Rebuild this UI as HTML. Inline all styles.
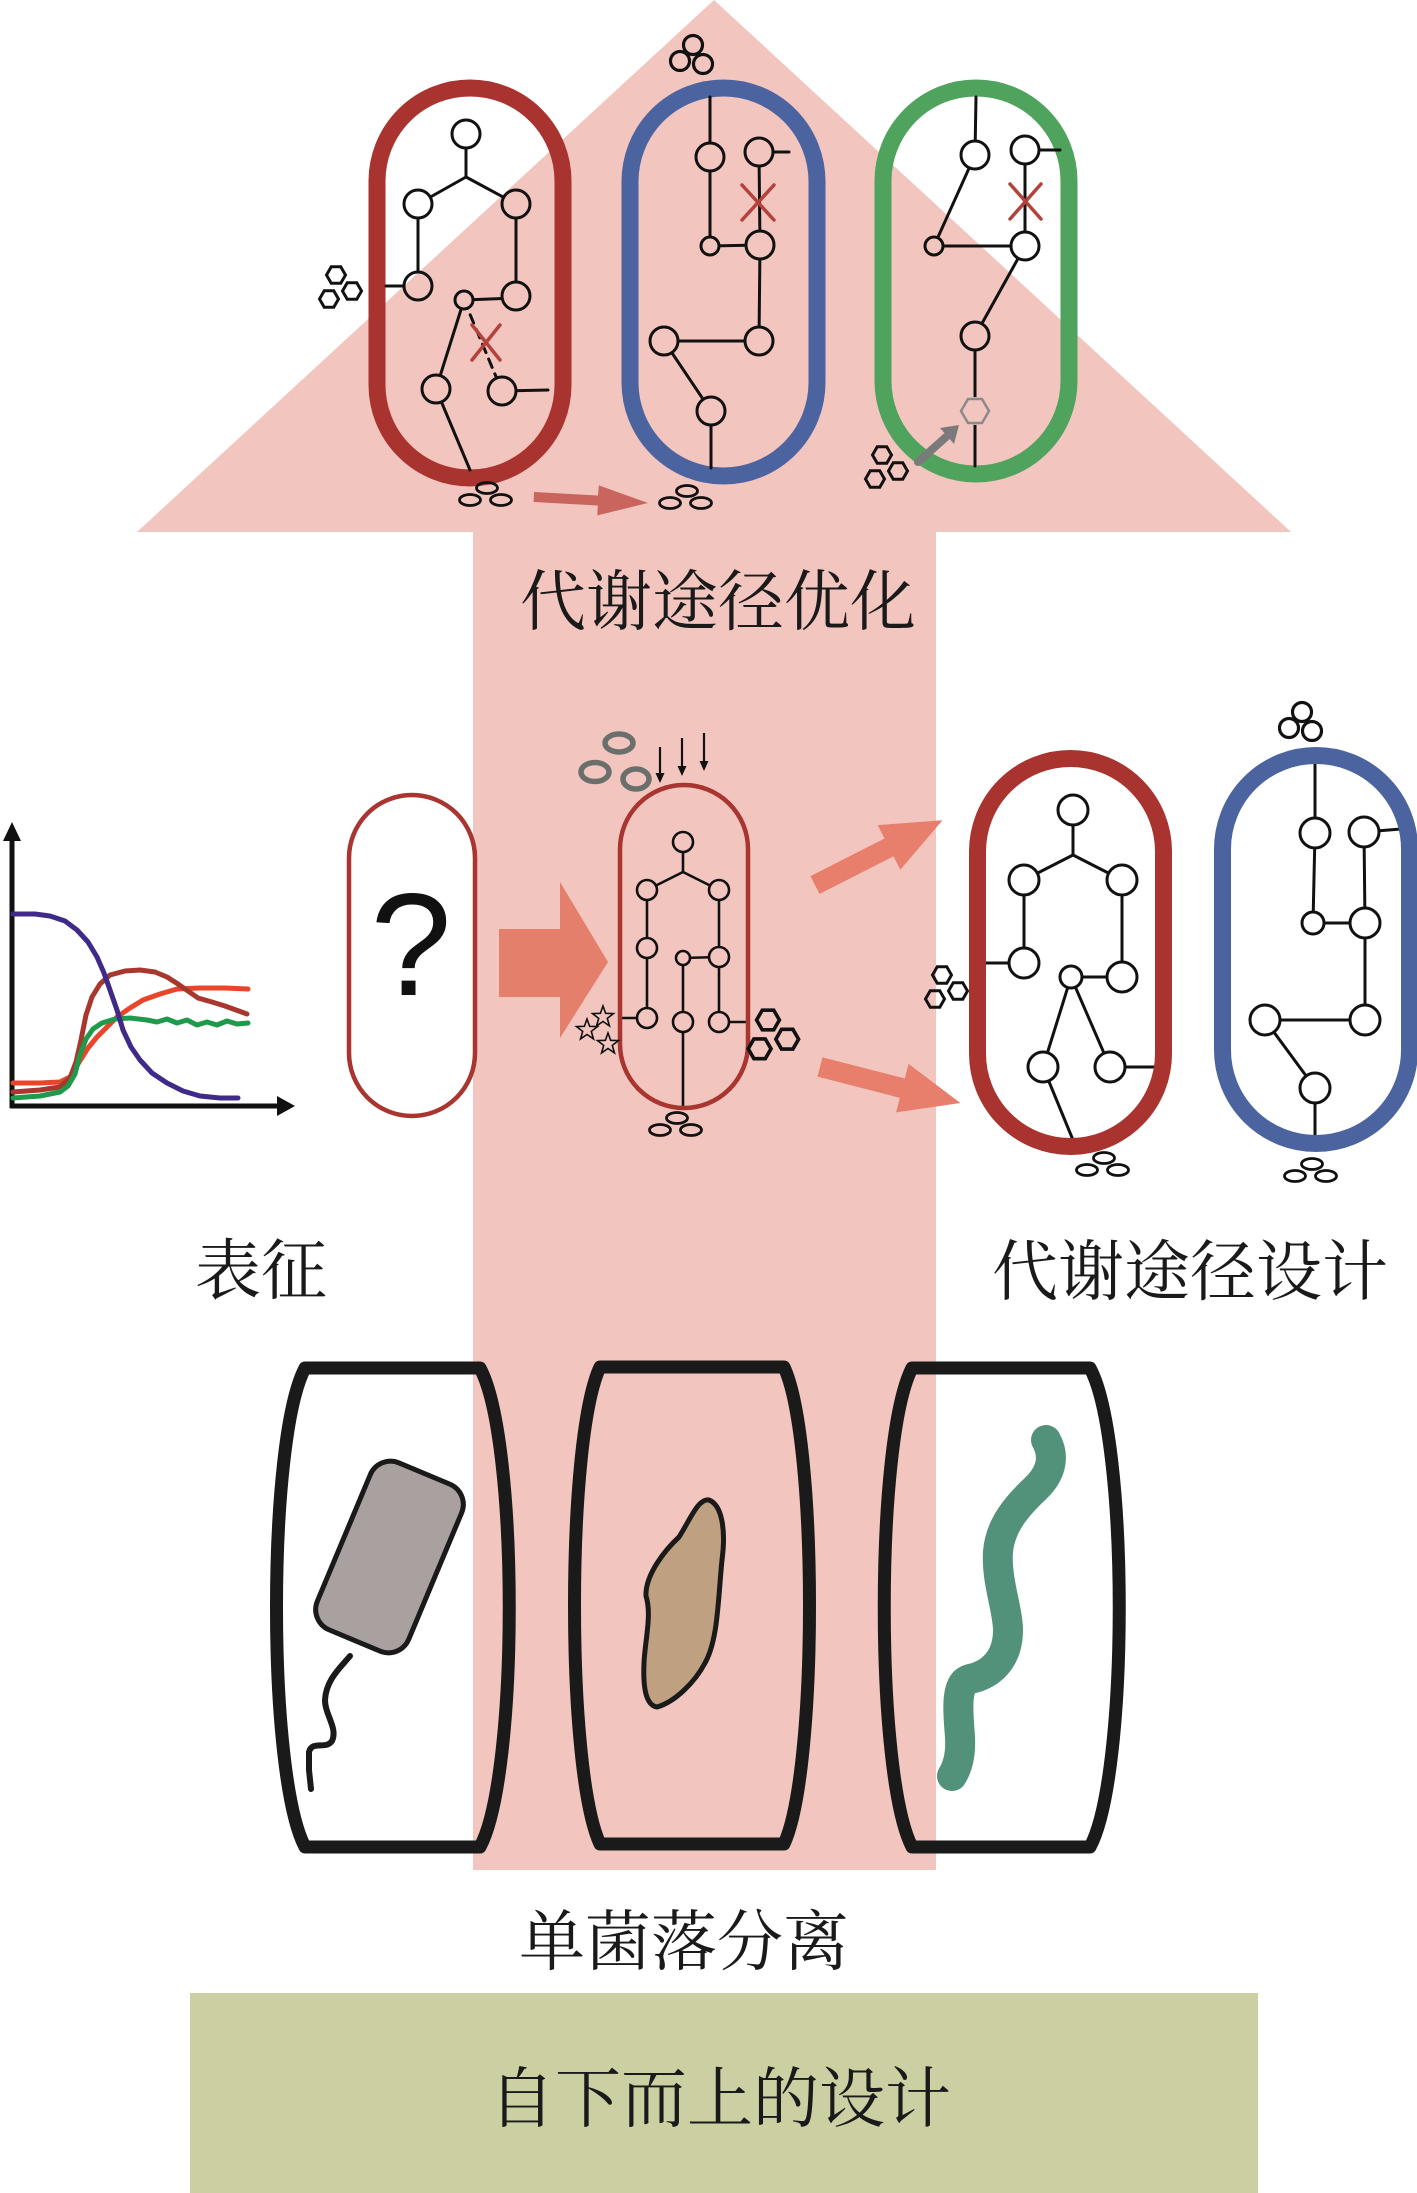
<!DOCTYPE html>
<html>
<head>
<meta charset="utf-8">
<style>
  html,body{margin:0;padding:0;background:#fff;}
  svg{display:block;}
  .lbl{font-family:"Liberation Serif","Noto Serif CJK SC","Noto Sans CJK SC",serif;font-size:66px;fill:#1a1a1a;}
</style>
</head>
<body>
<svg width="1417" height="2193" viewBox="0 0 1417 2193" xmlns="http://www.w3.org/2000/svg">
  <defs>
    <g id="hc" fill="none" stroke="#111" stroke-width="3">
      <path d="M9.5,0 L4.75,8.2 L-4.75,8.2 L-9.5,0 L-4.75,-8.2 L4.75,-8.2 Z"/>
      <path transform="translate(-7,24)" d="M9.5,0 L4.75,8.2 L-4.75,8.2 L-9.5,0 L-4.75,-8.2 L4.75,-8.2 Z"/>
      <path transform="translate(16,16)" d="M9.5,0 L4.75,8.2 L-4.75,8.2 L-9.5,0 L-4.75,-8.2 L4.75,-8.2 Z"/>
    </g>
    <g id="ec" fill="none" stroke="#111" stroke-width="2.8">
      <ellipse cx="0" cy="0" rx="10.5" ry="5.5"/>
      <ellipse cx="-17" cy="12" rx="10.5" ry="5.5"/>
      <ellipse cx="14" cy="12" rx="10.5" ry="5.5"/>
    </g>
    <g id="cc" fill="none" stroke="#111" stroke-width="3.2">
      <circle cx="0" cy="0" r="9.5"/>
      <circle cx="-13" cy="16" r="9.5"/>
      <circle cx="10" cy="19" r="9.5"/>
    </g>
    <path id="star" d="M0,-11 L2.65,-3.64 L10.46,-3.4 L4.28,1.39 L6.47,8.9 L0,4.5 L-6.47,8.9 L-4.28,1.39 L-10.46,-3.4 L-2.65,-3.64 Z"/>
    <mask id="nm" maskUnits="userSpaceOnUse" x="0" y="0" width="1417" height="2193">
      <rect x="0" y="0" width="1417" height="2193" fill="#fff"/>
      <g fill="#000">
        <circle cx="466" cy="134" r="14"/><circle cx="418" cy="204" r="14"/><circle cx="516" cy="204" r="14"/>
        <circle cx="418" cy="286" r="14"/><circle cx="516" cy="296" r="14"/><circle cx="464" cy="300" r="9"/>
        <circle cx="436" cy="389" r="14"/><circle cx="502" cy="391" r="14"/>
        <circle cx="710" cy="157" r="14"/><circle cx="759" cy="152" r="14"/><circle cx="760" cy="245" r="14"/>
        <circle cx="710" cy="246" r="9"/><circle cx="759" cy="341" r="14"/><circle cx="664" cy="341" r="14"/>
        <circle cx="711" cy="411" r="14"/>
        <circle cx="975" cy="155" r="14"/><circle cx="1025" cy="150" r="14"/><circle cx="1025" cy="246" r="14"/>
        <circle cx="934" cy="246" r="9"/><circle cx="975" cy="336" r="14"/><circle cx="975" cy="411" r="14"/>
        <circle cx="683" cy="842" r="10"/><circle cx="647" cy="890" r="10"/><circle cx="719" cy="890" r="10"/>
        <circle cx="647" cy="948" r="10"/><circle cx="719" cy="957" r="10"/><circle cx="683" cy="958" r="7"/>
        <circle cx="647" cy="1018" r="10"/><circle cx="683" cy="1022" r="10"/><circle cx="719" cy="1022" r="10"/>
        <circle cx="1073" cy="810" r="15"/><circle cx="1024" cy="880" r="15"/><circle cx="1122" cy="880" r="15"/>
        <circle cx="1024" cy="963" r="15"/><circle cx="1122" cy="977" r="15"/><circle cx="1071" cy="977" r="11"/>
        <circle cx="1043" cy="1067" r="15"/><circle cx="1110" cy="1067" r="15"/>
        <circle cx="1315" cy="833" r="15"/><circle cx="1364" cy="832" r="15"/><circle cx="1365" cy="923" r="15"/>
        <circle cx="1313" cy="923" r="11"/><circle cx="1365" cy="1020" r="15"/><circle cx="1265" cy="1020" r="15"/>
        <circle cx="1315" cy="1088" r="15"/>
      </g>
    </mask>
  </defs>

  <rect x="0" y="0" width="1417" height="2193" fill="#ffffff"/>

  <!-- Big pink arrow -->
  <polygon points="714,0 1291,532 936,532 936,1870 473,1870 473,532 137,532" fill="#f3c5bf"/>

  <!-- Title box -->
  <rect x="190" y="1993" width="1068" height="200" fill="#cbcfa2"/>

  <!-- ===== TOP CELLS ===== -->
  <rect x="377" y="88" width="186" height="390" rx="93" fill="none" stroke="#a8332f" stroke-width="17"/>
  <rect x="630" y="88" width="187" height="388" rx="93.5" fill="none" stroke="#4b64a0" stroke-width="17"/>
  <rect x="883" y="88" width="186" height="386" rx="93" fill="none" stroke="#4fa35d" stroke-width="17"/>

  <g mask="url(#nm)" stroke="#111" stroke-width="3" fill="none" stroke-linecap="round">
    <line x1="466" y1="134" x2="466" y2="177"/>
    <line x1="466" y1="177" x2="418" y2="204"/>
    <line x1="466" y1="177" x2="516" y2="204"/>
    <line x1="418" y1="204" x2="418" y2="286"/>
    <line x1="516" y1="204" x2="516" y2="296"/>
    <line x1="386" y1="286" x2="418" y2="286"/>
    <line x1="464" y1="300" x2="516" y2="298"/>
    <line x1="464" y1="300" x2="436" y2="389"/>
    <line x1="464" y1="300" x2="502" y2="391" stroke-dasharray="9 7"/>
    <line x1="502" y1="391" x2="548" y2="390"/>
    <line x1="436" y1="389" x2="470" y2="470"/>
    <line x1="710" y1="97" x2="710" y2="157"/>
    <line x1="759" y1="152" x2="789" y2="152"/>
    <line x1="759" y1="152" x2="760" y2="245"/>
    <line x1="710" y1="157" x2="710" y2="246"/>
    <line x1="710" y1="246" x2="760" y2="245"/>
    <line x1="760" y1="245" x2="759" y2="341"/>
    <line x1="664" y1="341" x2="759" y2="341"/>
    <line x1="664" y1="341" x2="711" y2="411"/>
    <line x1="711" y1="411" x2="711" y2="468"/>
    <line x1="976" y1="97" x2="975" y2="155"/>
    <line x1="1025" y1="150" x2="1060" y2="150"/>
    <line x1="1025" y1="150" x2="1025" y2="246"/>
    <line x1="975" y1="155" x2="934" y2="246"/>
    <line x1="934" y1="246" x2="1025" y2="246"/>
    <line x1="1025" y1="246" x2="975" y2="336"/>
    <line x1="975" y1="336" x2="975" y2="411"/>
    <line x1="975" y1="411" x2="975" y2="466"/>
    <g stroke-width="2.6">
      <line x1="683" y1="842" x2="683" y2="872"/>
      <line x1="683" y1="872" x2="647" y2="890"/>
      <line x1="683" y1="872" x2="719" y2="890"/>
      <line x1="647" y1="890" x2="647" y2="948"/>
      <line x1="719" y1="890" x2="719" y2="957"/>
      <line x1="683" y1="958" x2="719" y2="957"/>
      <line x1="647" y1="948" x2="647" y2="1018"/>
      <line x1="719" y1="957" x2="719" y2="1022"/>
      <line x1="683" y1="958" x2="683" y2="1022"/>
      <line x1="623" y1="1018" x2="647" y2="1018"/>
      <line x1="719" y1="1022" x2="745" y2="1022"/>
      <line x1="683" y1="1022" x2="683" y2="1106"/>
    </g>
    <line x1="1073" y1="810" x2="1073" y2="855"/>
    <line x1="1073" y1="855" x2="1024" y2="880"/>
    <line x1="1073" y1="855" x2="1122" y2="880"/>
    <line x1="1024" y1="880" x2="1024" y2="963"/>
    <line x1="1122" y1="880" x2="1122" y2="977"/>
    <line x1="986" y1="963" x2="1024" y2="963"/>
    <line x1="1071" y1="977" x2="1122" y2="977"/>
    <line x1="1071" y1="977" x2="1043" y2="1067"/>
    <line x1="1071" y1="977" x2="1110" y2="1067"/>
    <line x1="1110" y1="1067" x2="1155" y2="1067"/>
    <line x1="1043" y1="1067" x2="1073" y2="1140"/>
    <line x1="1315" y1="764" x2="1315" y2="833"/>
    <line x1="1364" y1="832" x2="1401" y2="829"/>
    <line x1="1364" y1="832" x2="1365" y2="923"/>
    <line x1="1315" y1="833" x2="1313" y2="923"/>
    <line x1="1313" y1="923" x2="1365" y2="923"/>
    <line x1="1365" y1="923" x2="1365" y2="1020"/>
    <line x1="1265" y1="1020" x2="1365" y2="1020"/>
    <line x1="1265" y1="1020" x2="1315" y2="1088"/>
    <line x1="1315" y1="1088" x2="1315" y2="1139"/>
  </g>

  <g fill="none" stroke="#111" stroke-width="3">
    <circle cx="466" cy="134" r="14"/><circle cx="418" cy="204" r="14"/><circle cx="516" cy="204" r="14"/>
    <circle cx="418" cy="286" r="14"/><circle cx="516" cy="296" r="14"/><circle cx="464" cy="300" r="9"/>
    <circle cx="436" cy="389" r="14"/><circle cx="502" cy="391" r="14"/>
    <circle cx="710" cy="157" r="14"/><circle cx="759" cy="152" r="14"/><circle cx="760" cy="245" r="14"/>
    <circle cx="710" cy="246" r="9"/><circle cx="759" cy="341" r="14"/><circle cx="664" cy="341" r="14"/>
    <circle cx="711" cy="411" r="14"/>
    <circle cx="975" cy="155" r="14"/><circle cx="1025" cy="150" r="14"/><circle cx="1025" cy="246" r="14"/>
    <circle cx="934" cy="246" r="9"/><circle cx="975" cy="336" r="14"/>
    <circle cx="1073" cy="810" r="15"/><circle cx="1024" cy="880" r="15"/><circle cx="1122" cy="880" r="15"/>
    <circle cx="1024" cy="963" r="15"/><circle cx="1122" cy="977" r="15"/><circle cx="1071" cy="977" r="11"/>
    <circle cx="1043" cy="1067" r="15"/><circle cx="1110" cy="1067" r="15"/>
    <circle cx="1315" cy="833" r="15"/><circle cx="1364" cy="832" r="15"/><circle cx="1365" cy="923" r="15"/>
    <circle cx="1313" cy="923" r="11"/><circle cx="1365" cy="1020" r="15"/><circle cx="1265" cy="1020" r="15"/>
    <circle cx="1315" cy="1088" r="15"/>
  </g>
  <g fill="none" stroke="#111" stroke-width="2.6">
    <circle cx="683" cy="842" r="10"/><circle cx="647" cy="890" r="10"/><circle cx="719" cy="890" r="10"/>
    <circle cx="647" cy="948" r="10"/><circle cx="719" cy="957" r="10"/><circle cx="683" cy="958" r="7"/>
    <circle cx="647" cy="1018" r="10"/><circle cx="683" cy="1022" r="10"/><circle cx="719" cy="1022" r="10"/>
  </g>
  <path d="M989,411 L982,423 L968,423 L961,411 L968,399 L982,399 Z" fill="none" stroke="#8a8a8a" stroke-width="2.5"/>

  <g stroke="#b4423c" stroke-width="3.5" stroke-linecap="round">
    <line x1="472" y1="325" x2="500" y2="360"/><line x1="500" y1="325" x2="472" y2="360"/>
    <line x1="742" y1="185" x2="774" y2="220"/><line x1="774" y1="185" x2="742" y2="220"/>
    <line x1="1010" y1="184" x2="1041" y2="219"/><line x1="1041" y1="184" x2="1010" y2="219"/>
  </g>

  <use href="#hc" transform="translate(336,275)"/>
  <use href="#hc" transform="translate(882,455)"/>
  <use href="#cc" transform="translate(693,45)"/>
  <use href="#ec" transform="translate(487,488)"/>
  <use href="#ec" transform="translate(687,491)"/>

  <polygon points="534,492 598,495.5 598.9,485.4 648,503 597.3,515.4 597.8,505.5 533.6,502" fill="#c9655c"/>

  <line x1="918" y1="462" x2="946" y2="437" stroke="#7a7a7a" stroke-width="8" stroke-linecap="round"/>
  <polygon points="959,425 954,444 940,428" fill="#7a7a7a"/>

  <text class="lbl" x="718" y="603" text-anchor="middle" dominant-baseline="central">代谢途径优化</text>

  <!-- ===== MIDDLE ===== -->
  <g stroke="#111" stroke-width="5" fill="none">
    <line x1="12" y1="1108" x2="12" y2="836"/>
    <line x1="10" y1="1106" x2="280" y2="1106"/>
  </g>
  <polygon points="12,822 3,841 21,841" fill="#111"/>
  <polygon points="295,1106 277,1096 277,1116" fill="#111"/>
  <g fill="none" stroke-width="5" stroke-linejoin="round" stroke-linecap="round">
    <polyline stroke="#e8452a" points="13,1083 40,1083 60,1082 70,1077 78,1064 88,1048 97,1037 108,1026 117,1017 130,1008 143,1000 160,994 177,989 200,988 225,988 248,989"/>
    <polyline stroke="#a8372e" points="13,1092 40,1090 60,1087 70,1078 76,1062 81,1040 86,1015 92,997 100,984 110,975 125,971 140,970 155,972 167,977 178,984 188,991 198,998 212,1002 225,1006 247,1014"/>
    <polyline stroke="#1e9a4a" points="13,1098 40,1096 60,1092 68,1086 75,1074 80,1055 86,1039 93,1029 102,1023 115,1019 130,1018 147,1020 157,1022 167,1019 177,1023 187,1020 197,1025 207,1022 217,1025 227,1021 237,1024 248,1023"/>
    <polyline stroke="#3f2a8a" points="13,914 35,914 50,916 65,921 77,930 88,942 97,957 104,973 110,990 117,1010 123,1030 131,1047 140,1060 152,1073 167,1083 183,1091 200,1096 220,1098 238,1098"/>
  </g>

  <rect x="349" y="795" width="126" height="321" rx="63" fill="none" stroke="#a8352f" stroke-width="4.5"/>
  <text x="411" y="995" text-anchor="middle" font-family="Liberation Sans, sans-serif" font-size="146" fill="#111">?</text>

  <polygon points="499,929 560,929 560,882 608,962 560,1038 560,997 499,997" fill="#e47f6c"/>

  <rect x="620" y="785" width="128" height="323" rx="64" fill="none" stroke="#a8352f" stroke-width="4.5"/>
  <g fill="none" stroke="#6b6f6b" stroke-width="5.5">
    <ellipse cx="619" cy="743" rx="14" ry="9"/>
    <ellipse cx="595" cy="772" rx="14" ry="9.5"/>
    <ellipse cx="636" cy="779" rx="13" ry="10"/>
  </g>
  <g stroke="#111" stroke-width="2.2">
    <line x1="660" y1="747" x2="660" y2="775"/>
    <line x1="682" y1="738" x2="682" y2="768"/>
    <line x1="704" y1="733" x2="704" y2="763"/>
  </g>
  <g fill="#111">
    <polygon points="655.5,773 664.5,773 660,783"/>
    <polygon points="677.5,766 686.5,766 682,776"/>
    <polygon points="699.5,761 708.5,761 704,771"/>
  </g>
  <g fill="none" stroke="#111" stroke-width="1.6">
    <use href="#star" transform="translate(587,1030)"/>
    <use href="#star" transform="translate(603,1017)"/>
    <use href="#star" transform="translate(608,1044)"/>
  </g>
  <use href="#hc" transform="translate(768,1020) scale(1.2)"/>
  <use href="#ec" transform="translate(677,1118)"/>

  <g fill="#e77f6c">
    <polygon transform="translate(815,885) rotate(-26.9)" points="0,-10 83,-10 83,-25 143,0 83,25 83,10 0,10"/>
    <polygon transform="translate(820,1067) rotate(14.4)" points="0,-10 85,-10 85,-25 145,0 85,25 85,10 0,10"/>
  </g>

  <rect x="977.5" y="758.5" width="186" height="388" rx="93" fill="none" stroke="#a8332f" stroke-width="17"/>
  <rect x="1222.5" y="755.5" width="187" height="388" rx="93.5" fill="none" stroke="#4b64a0" stroke-width="17"/>
  <use href="#hc" transform="translate(942,975)"/>
  <use href="#cc" transform="translate(1302,712)"/>
  <use href="#ec" transform="translate(1104,1158)"/>
  <use href="#ec" transform="translate(1312,1164)"/>

  <text class="lbl" x="261" y="1272" text-anchor="middle" dominant-baseline="central">表征</text>
  <text class="lbl" x="1190" y="1273" text-anchor="middle" dominant-baseline="central">代谢途径设计</text>

  <!-- ===== BOTTOM BOXES ===== -->
  <g fill="none" stroke="#1a1a1a" stroke-width="13" stroke-linejoin="round">
    <path d="M305,1368 L480,1368 C519,1440 519,1775 480,1847 L305,1847 C267,1775 267,1440 305,1368 Z"/>
    <path d="M600,1367 L784,1367 C818,1440 818,1771 784,1844 L600,1844 C566,1771 566,1440 600,1367 Z"/>
    <path d="M912,1368 L1090,1368 C1129,1440 1129,1775 1090,1847 L912,1847 C875,1775 875,1440 912,1368 Z"/>
  </g>
  <rect x="-49.5" y="-90.5" width="99" height="181" rx="22" transform="translate(389.5,1557) rotate(22.7)" fill="#a9a19f" stroke="#1a1a1a" stroke-width="5"/>
  <path d="M350,1656 C340,1668 326,1680 325,1700 C325,1715 338,1728 332,1741 C326,1750 312,1740 309,1752 L309,1770 L311,1789" fill="none" stroke="#1a1a1a" stroke-width="6" stroke-linecap="round" stroke-linejoin="round"/>
  <path d="M709,1500 C722,1505 726,1530 722,1560 C718,1600 718,1640 705,1663 C695,1682 675,1702 657,1707 C645,1705 643,1685 644,1663 C645,1640 652,1615 646,1596 C645,1575 665,1550 679,1537 C690,1520 698,1498 709,1500 Z" fill="#bfa182" stroke="#1a1a1a" stroke-width="5"/>
  <path d="M1046,1440 C1056,1458 1050,1475 1035,1489 C1018,1505 1000,1525 998,1552 C996,1580 1008,1610 1008,1630 C1008,1660 990,1675 970,1679 C955,1683 958,1710 960,1737 C961,1755 957,1768 952,1776" fill="none" stroke="#52927b" stroke-width="30" stroke-linecap="round" stroke-linejoin="round"/>

  <text class="lbl" x="684" y="1943" text-anchor="middle" dominant-baseline="central">单菌落分离</text>
  <text class="lbl" x="720" y="2100" text-anchor="middle" dominant-baseline="central">自下而上的设计</text>
</svg>
</body>
</html>
